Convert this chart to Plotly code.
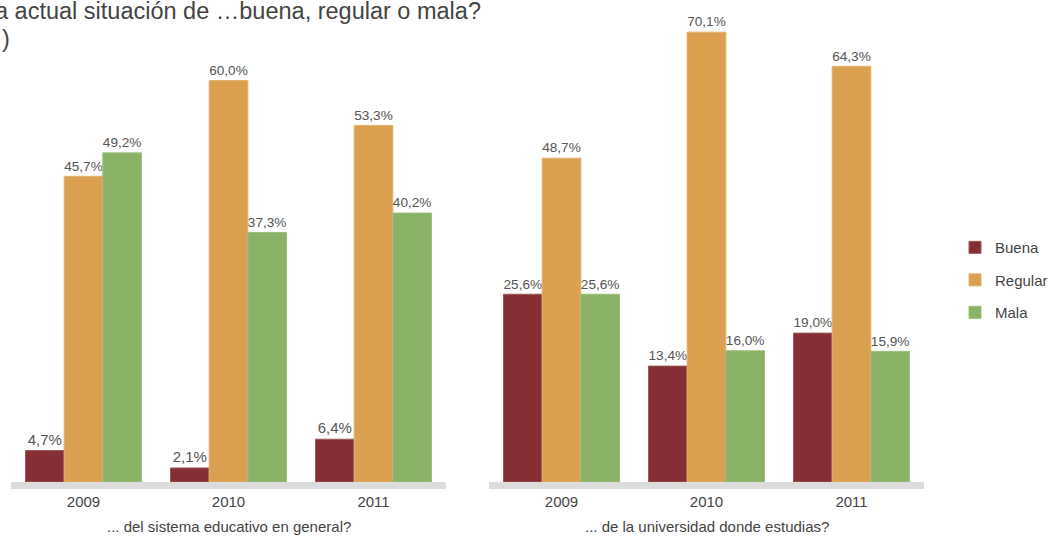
import plotly.graph_objects as go

years = ["2009", "2010", "2011"]
series_names = ["Buena", "Regular", "Mala"]
sistema = {
    "Buena": [4.7, 2.1, 6.4],
    "Regular": [45.7, 60.0, 53.3],
    "Mala": [49.2, 37.3, 40.2],
}
universidad = {
    "Buena": [25.6, 13.4, 19.0],
    "Regular": [48.7, 70.1, 64.3],
    "Mala": [25.6, 16.0, 15.9],
}
colors = {"Buena": "#862E35", "Regular": "#DBA04F", "Mala": "#8AB266"}
line_colors = {"Buena": "#9A5A58", "Regular": "#E2B06C", "Mala": "#9DBE7E"}

title_line1 = "a actual situación de …buena, regular o mala?"
title_line2 = ")"
left_title = "... del sistema educativo en general?"
right_title = "... de la universidad donde estudias?"

FONT = "Liberation Sans"
TXT = "#555555"

left_range = [0, 69.06]
right_floor = -6.28
right_range = [right_floor, 72.16]


def fmt(v):
    return f"{v:.1f}".replace(".", ",") + "%"


fig = go.Figure()
for name in series_names:
    vals = sistema[name]
    fig.add_trace(go.Bar(
        x=years, y=vals, name=name, xaxis="x", yaxis="y",
        marker=dict(color=colors[name], line=dict(color=line_colors[name], width=1)),
        text=[fmt(v) for v in vals], textposition="outside", cliponaxis=False,
        textfont=dict(family=FONT, size=15, color=TXT),
        legendgroup=name, showlegend=True,
    ))
for name in series_names:
    vals = universidad[name]
    fig.add_trace(go.Bar(
        x=years, y=[v - right_floor for v in vals], base=right_floor,
        name=name, xaxis="x2", yaxis="y2",
        marker=dict(color=colors[name], line=dict(color=line_colors[name], width=1)),
        text=[fmt(v) for v in vals], textposition="outside", cliponaxis=False,
        textfont=dict(family=FONT, size=15, color=TXT),
        legendgroup=name, showlegend=False,
    ))

axis_common = dict(
    showgrid=False, zeroline=False, showline=True, linecolor="#DCDCDC", linewidth=7,
    ticks="", tickfont=dict(family=FONT, size=15, color="#444444"),
)
fig.update_layout(
    width=1051, height=537,
    margin=dict(l=0, r=0, t=20, b=55, autoexpand=False),
    paper_bgcolor="white", plot_bgcolor="white",
    barmode="group", bargap=0.2, bargroupgap=0,
    font=dict(family=FONT, color=TXT),
    xaxis=dict(domain=[11 / 1051, 446 / 1051], anchor="y", **axis_common),
    xaxis2=dict(domain=[489 / 1051, 924 / 1051], anchor="y2", **axis_common),
    yaxis=dict(range=left_range, visible=False, domain=[0, 1]),
    yaxis2=dict(range=right_range, visible=False, domain=[0, 1], anchor="x2"),
    legend=dict(x=955 / 1051, y=0.437, xanchor="left", yanchor="middle",
                font=dict(family=FONT, size=15, color="#444444"),
                bgcolor="rgba(0,0,0,0)"),
    showlegend=True,
    annotations=[
        dict(text=title_line1, x=-7 / 1051, y=1.052, xref="paper", yref="paper",
             xanchor="left", yanchor="top", align="left", showarrow=False,
             font=dict(family=FONT, size=23.5, color="#444444")),
        dict(text=title_line2, x=0, y=0.992, xref="paper", yref="paper",
             xanchor="left", yanchor="top", align="left", showarrow=False,
             font=dict(family=FONT, size=23.5, color="#444444")),
        dict(text=left_title, x=0.5, y=-0.097, xref="x domain", yref="paper",
             xanchor="center", yanchor="middle", showarrow=False,
             font=dict(family=FONT, size=15, color="#444444")),
        dict(text=right_title, x=0.5, y=-0.097, xref="x2 domain", yref="paper",
             xanchor="center", yanchor="middle", showarrow=False,
             font=dict(family=FONT, size=15, color="#444444")),
    ],
)

fig.write_html("out.html", config={"displayModeBar": False},
               post_script="document.body.style.margin='0';document.body.style.overflow='hidden';")
